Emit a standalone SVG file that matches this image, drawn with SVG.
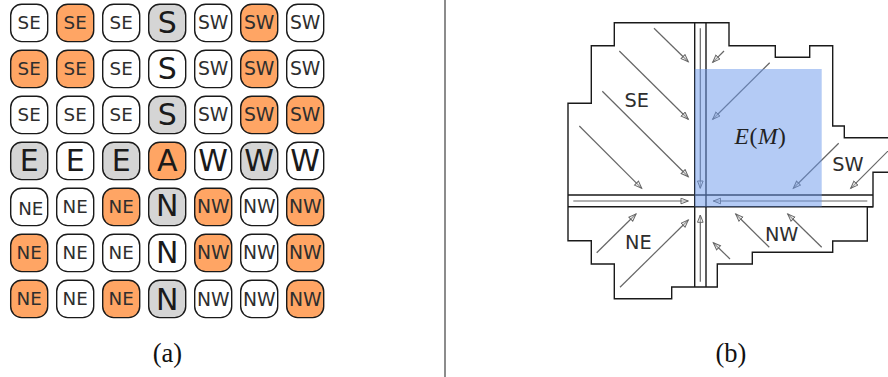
<svg xmlns="http://www.w3.org/2000/svg" width="888" height="377" viewBox="0 0 888 377">
<defs>
<marker id="ah" markerUnits="userSpaceOnUse" markerWidth="12" markerHeight="10" refX="8" refY="3.5" orient="auto"><path d="M0.7 0.7L8 3.5L0.7 6.3Z" fill="#fff" fill-opacity=".35" stroke="#666" stroke-width="1"/></marker>
</defs>
<style>
.c{stroke:#1a1a1a;stroke-width:1.4;fill:#fff}
.o{fill:#ffa564}
.g{fill:#d5d5d5}
text{font-family:"DejaVu Sans",sans-serif;text-anchor:middle;fill:#2e2e2e}
.d{font-size:18.3px}
.w{font-size:18.8px}
.b{font-size:30px;fill:#1a1a1a}
.t{font-size:19.3px}
.l{font-family:"Liberation Serif",serif;font-size:26.5px;fill:#111}
.a line{stroke:#666;stroke-width:1.2;marker-end:url(#ah)}
.w2{stroke:#1a1a1a;stroke-width:1.4;fill:none}
</style>
<g id="grid">
<g id="r1">
<rect class="c" x="10.7" y="4.2" width="37" height="37.4" rx="11"/><text class="d" x="29.2" y="29.3">SE</text>
<rect class="c o" x="56.7" y="4.2" width="37" height="37.4" rx="11"/><text class="d" x="75.2" y="29.3">SE</text>
<rect class="c" x="102.7" y="4.2" width="37" height="37.4" rx="11"/><text class="d" x="121.2" y="29.3">SE</text>
<rect class="c g" x="148.7" y="4.2" width="37" height="37.4" rx="11"/><text class="b" x="167.2" y="33">S</text>
<rect class="c" x="194.7" y="4.2" width="37" height="37.4" rx="11"/><text class="w" x="213.2" y="28.5">SW</text>
<rect class="c o" x="240.7" y="4.2" width="37" height="37.4" rx="11"/><text class="w" x="259.2" y="28.5">SW</text>
<rect class="c" x="286.7" y="4.2" width="37" height="37.4" rx="11"/><text class="w" x="305.2" y="28.5">SW</text>
</g>
<g id="r2">
<rect class="c o" x="10.7" y="50.2" width="37" height="37.4" rx="11"/><text class="d" x="29.2" y="75.3">SE</text>
<rect class="c o" x="56.7" y="50.2" width="37" height="37.4" rx="11"/><text class="d" x="75.2" y="75.3">SE</text>
<rect class="c" x="102.7" y="50.2" width="37" height="37.4" rx="11"/><text class="d" x="121.2" y="75.3">SE</text>
<rect class="c" x="148.7" y="50.2" width="37" height="37.4" rx="11"/><text class="b" x="167.2" y="79">S</text>
<rect class="c" x="194.7" y="50.2" width="37" height="37.4" rx="11"/><text class="w" x="213.2" y="74.5">SW</text>
<rect class="c o" x="240.7" y="50.2" width="37" height="37.4" rx="11"/><text class="w" x="259.2" y="74.5">SW</text>
<rect class="c" x="286.7" y="50.2" width="37" height="37.4" rx="11"/><text class="w" x="305.2" y="74.5">SW</text>
</g>
<g id="r3">
<rect class="c" x="10.7" y="96.2" width="37" height="37.4" rx="11"/><text class="d" x="29.2" y="121.3">SE</text>
<rect class="c" x="56.7" y="96.2" width="37" height="37.4" rx="11"/><text class="d" x="75.2" y="121.3">SE</text>
<rect class="c" x="102.7" y="96.2" width="37" height="37.4" rx="11"/><text class="d" x="121.2" y="121.3">SE</text>
<rect class="c g" x="148.7" y="96.2" width="37" height="37.4" rx="11"/><text class="b" x="167.2" y="125">S</text>
<rect class="c" x="194.7" y="96.2" width="37" height="37.4" rx="11"/><text class="w" x="213.2" y="120.5">SW</text>
<rect class="c o" x="240.7" y="96.2" width="37" height="37.4" rx="11"/><text class="w" x="259.2" y="120.5">SW</text>
<rect class="c o" x="286.7" y="96.2" width="37" height="37.4" rx="11"/><text class="w" x="305.2" y="120.5">SW</text>
</g>
<g id="r4">
<rect class="c g" x="10.7" y="142.2" width="37" height="37.4" rx="11"/><text class="b" x="29.2" y="170.6">E</text>
<rect class="c" x="56.7" y="142.2" width="37" height="37.4" rx="11"/><text class="b" x="75.2" y="170.6">E</text>
<rect class="c g" x="102.7" y="142.2" width="37" height="37.4" rx="11"/><text class="b" x="121.2" y="170.6">E</text>
<rect class="c o" x="148.7" y="142.2" width="37" height="37.4" rx="11"/><text class="b" x="167.2" y="170.6">A</text>
<rect class="c" x="194.7" y="142.2" width="37" height="37.4" rx="11"/><text class="b" x="213.2" y="170.6">W</text>
<rect class="c g" x="240.7" y="142.2" width="37" height="37.4" rx="11"/><text class="b" x="259.2" y="170.6">W</text>
<rect class="c" x="286.7" y="142.2" width="37" height="37.4" rx="11"/><text class="b" x="305.2" y="170.6">W</text>
</g>
<g id="r5">
<rect class="c" x="10.7" y="188.2" width="37" height="37.4" rx="11"/><text class="d" x="30.8" y="215">NE</text>
<rect class="c" x="56.7" y="188.2" width="37" height="37.4" rx="11"/><text class="d" x="75.2" y="213">NE</text>
<rect class="c o" x="102.7" y="188.2" width="37" height="37.4" rx="11"/><text class="d" x="121.2" y="213">NE</text>
<rect class="c g" x="148.7" y="188.2" width="37" height="37.4" rx="11"/><text class="b" x="167.2" y="216">N</text>
<rect class="c o" x="194.7" y="188.2" width="37" height="37.4" rx="11"/><text class="w" x="213.2" y="212.7">NW</text>
<rect class="c" x="240.7" y="188.2" width="37" height="37.4" rx="11"/><text class="w" x="259.2" y="212.7">NW</text>
<rect class="c o" x="286.7" y="188.2" width="37" height="37.4" rx="11"/><text class="w" x="305.2" y="212.7">NW</text>
</g>
<g id="r6">
<rect class="c o" x="10.7" y="234.2" width="37" height="37.4" rx="11"/><text class="d" x="29.2" y="258.7">NE</text>
<rect class="c" x="56.7" y="234.2" width="37" height="37.4" rx="11"/><text class="d" x="75.2" y="258.7">NE</text>
<rect class="c" x="102.7" y="234.2" width="37" height="37.4" rx="11"/><text class="d" x="121.2" y="258.7">NE</text>
<rect class="c" x="148.7" y="234.2" width="37" height="37.4" rx="11"/><text class="b" x="167.2" y="262.7">N</text>
<rect class="c o" x="194.7" y="234.2" width="37" height="37.4" rx="11"/><text class="w" x="213.2" y="258.7">NW</text>
<rect class="c" x="240.7" y="234.2" width="37" height="37.4" rx="11"/><text class="w" x="259.2" y="258.7">NW</text>
<rect class="c o" x="286.7" y="234.2" width="37" height="37.4" rx="11"/><text class="w" x="305.2" y="258.7">NW</text>
</g>
<g id="r7">
<rect class="c o" x="10.7" y="280.2" width="37" height="37.4" rx="11"/><text class="d" x="29.2" y="305">NE</text>
<rect class="c" x="56.7" y="280.2" width="37" height="37.4" rx="11"/><text class="d" x="75.2" y="305">NE</text>
<rect class="c o" x="102.7" y="280.2" width="37" height="37.4" rx="11"/><text class="d" x="121.2" y="305">NE</text>
<rect class="c g" x="148.7" y="280.2" width="37" height="37.4" rx="11"/><text class="b" x="167.2" y="309.7">N</text>
<rect class="c" x="194.7" y="280.2" width="37" height="37.4" rx="11"/><text class="w" x="213.2" y="305.5">NW</text>
<rect class="c" x="240.7" y="280.2" width="37" height="37.4" rx="11"/><text class="w" x="259.2" y="305.5">NW</text>
<rect class="c o" x="286.7" y="280.2" width="37" height="37.4" rx="11"/><text class="w" x="305.2" y="305.5">NW</text>
</g>
</g>
<text class="l" x="167.5" y="362">(a)</text>
<text class="l" x="731" y="362">(b)</text>
<line x1="445" y1="0" x2="445" y2="377" stroke="#666" stroke-width="1.5"/>
<g id="outline">
<path class="w2" d="M888 137.7H844.3V126H832.7V45.7H809.7V57.3H775.3V45.7H729V22.7H614.3V45.7H591.3V103.3H568V240.7H591.3V264H614.3V298.7H671.7V287H717.3V264H752.3V252.3H832.7V241H867.3V206.7H873V172.3H888"/>
<path class="w2" d="M694.7 22.7V287M706 22.7V287M568 195H873M568 206.7H873"/>
</g>
<g id="connectors" class="a">
<line x1="654" y1="28.3" x2="688.3" y2="61.7"/>
<line x1="619.3" y1="51" x2="688.3" y2="119.3"/>
<line x1="602.3" y1="91.3" x2="688.3" y2="176.7"/>
<line x1="579.3" y1="126" x2="641.7" y2="188.3"/>
<line x1="700.3" y1="28.3" x2="700.3" y2="188.3"/>
<line x1="724" y1="51" x2="712.7" y2="62.3"/>
<line x1="769.7" y1="62.7" x2="712.7" y2="119.3"/>
<line x1="838.7" y1="143.3" x2="793.3" y2="188.3"/>
<line x1="892" y1="147" x2="850.7" y2="188.3"/>
<line x1="573.3" y1="201" x2="688.3" y2="201"/>
<line x1="867.3" y1="201" x2="713.3" y2="201"/>
<line x1="700.3" y1="281.7" x2="700.3" y2="215"/>
<line x1="596.7" y1="252.7" x2="636" y2="214"/>
<line x1="620" y1="287.3" x2="688.3" y2="220"/>
<line x1="730" y1="259" x2="713.3" y2="242.7"/>
<line x1="769.3" y1="247.3" x2="735.7" y2="214"/>
<line x1="821.7" y1="247.3" x2="787.7" y2="214"/>
</g>
<rect id="em" x="694.7" y="69" width="127" height="137.7" fill="#6a97ec" fill-opacity=".5"/>
<g id="labels">
<text class="t" x="636.7" y="107.3">SE</text>
<text class="t" x="638.3" y="249">NE</text>
<text class="t" x="781.7" y="240.7">NW</text>
<text class="t" x="848" y="170.7">SW</text>
<text x="760.5" y="143.5" style="font-family:'Liberation Serif',serif;font-size:23.5px;fill:#222" letter-spacing=".6"><tspan font-style="italic">E</tspan>(<tspan font-style="italic">M</tspan>)</text>
</g>
</svg>
